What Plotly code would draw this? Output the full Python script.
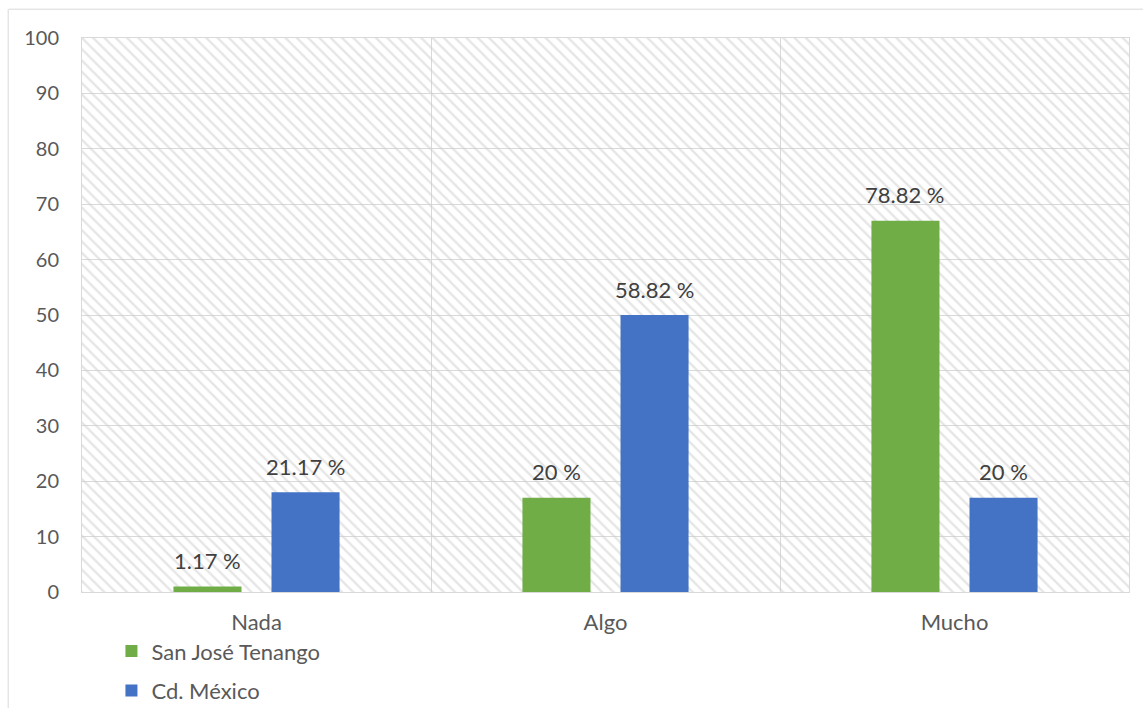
import math
import plotly.graph_objects as go

# Survey responses (counts per locality)
categories = ["Nada", "Algo", "Mucho"]
series_names = ["San José Tenango", "Cd. México"]
san_jose = [1, 17, 67]
cd_mexico = [18, 50, 17]
y_ticks = list(range(0, 101, 10))

colors = ["#70AD47", "#4472C4"]
font_family = "Lato, 'Open Sans', sans-serif"
text_size = 22


def pct_labels(values):
    total = sum(values)
    out = []
    for v in values:
        p = math.floor(round(v / total * 10000, 6)) / 100
        out.append(f"{p:g} %")
    return out


fig = go.Figure()

# Hatched plot background, one full-width slot per category
fig.add_trace(go.Bar(
    x=categories, y=[y_ticks[-1]] * len(categories), width=1,
    marker=dict(color="rgba(0,0,0,0)", line=dict(width=0),
                pattern=dict(shape="\\", fgcolor="#cccccc", bgcolor="rgba(0,0,0,0)",
                             size=8, solidity=0.3)),
    showlegend=False, hoverinfo="skip",
))

bar_w = 0.195
offsets = [-0.238, 0.043]
annotations = []
for name, vals, col, off in zip(series_names, [san_jose, cd_mexico], colors, offsets):
    fig.add_trace(go.Bar(
        x=categories, y=vals, name=name, width=bar_w, offset=off,
        marker=dict(color=col, line=dict(width=0)),
        legendgroup=name,
    ))
    for i, (v, lab) in enumerate(zip(vals, pct_labels(vals))):
        annotations.append(dict(
            x=i + off + bar_w / 2, y=v, xref="x", yref="y", text=lab,
            showarrow=False, yanchor="middle", yshift=26,
            font=dict(size=text_size, color="#404040", family=font_family),
        ))

fig.update_layout(
    width=1143, height=708,
    margin=dict(l=82, r=14, t=38, b=116, autoexpand=False),
    paper_bgcolor="white", plot_bgcolor="white",
    barmode="overlay",
    font=dict(family=font_family, size=text_size, color="#595959"),
    annotations=annotations,
    legend=dict(
        xref="container", yref="container", x=0.0975, y=0.11,
        xanchor="left", yanchor="top", orientation="v",
        traceorder="grouped", tracegroupgap=8,
        font=dict(size=text_size, color="#595959", family=font_family),
        bgcolor="rgba(0,0,0,0)", itemwidth=30,
    ),
    shapes=[
        dict(type="line", xref="paper", yref="paper", x0=-0.07, x1=1.2, y0=1.052, y1=1.052,
             line=dict(color="#d9d9d9", width=1)),
        dict(type="line", xref="paper", yref="paper", x0=-0.0705, x1=-0.0705, y0=-0.3, y1=1.052,
             line=dict(color="#d9d9d9", width=1)),
    ],
)

fig.update_xaxes(
    type="category", categoryorder="array", categoryarray=categories,
    range=[-0.5, len(categories) - 0.5],
    tickson="boundaries", showgrid=True, gridcolor="#d9d9d9", gridwidth=1,
    showline=True, linecolor="#d9d9d9", linewidth=1, mirror=True,
    ticks="", ticklabelstandoff=11,
    tickfont=dict(size=text_size, color="#595959"),
)
fig.update_yaxes(
    range=[0, 100], tickvals=y_ticks,
    showgrid=True, gridcolor="#d9d9d9", gridwidth=1, zeroline=False,
    showline=True, linecolor="#d9d9d9", linewidth=1, mirror=True,
    ticks="", ticklabelstandoff=18,
    tickfont=dict(size=20, color="#595959"),
)

fig.write_html("out.html")
